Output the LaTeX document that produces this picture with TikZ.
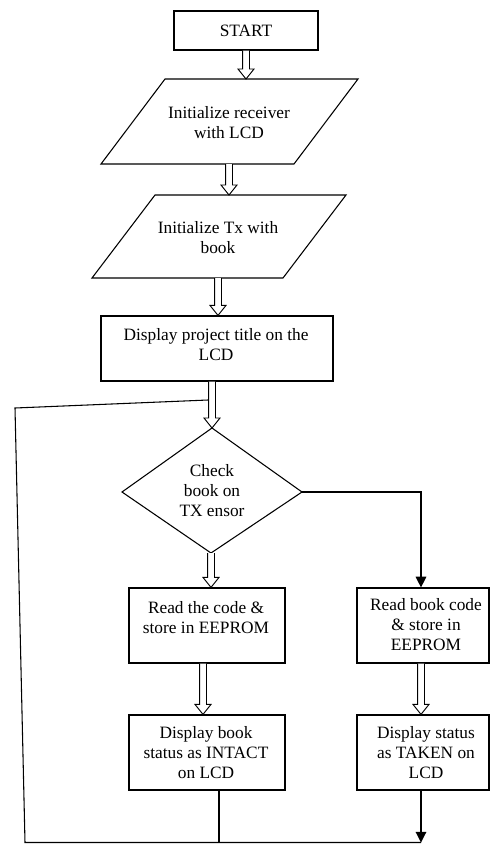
\documentclass[tikz,border=0pt]{standalone}
\usepackage{fontspec}
\setmainfont{Liberation Serif}
\usetikzlibrary{calc,arrows.meta,positioning}

% hollow block arrow pointing down, from #1 to #2
\newcommand{\hollowarrow}[2]{%
  \draw[hollow] let \p1=(#1), \p2=(#2) in
    (\x1-2.6pt,\y1) -- (\x1-2.6pt,\y2+7.5pt) -- (\x1-6pt,\y2+7.5pt) -- (\x1,\y2)
    -- (\x1+6pt,\y2+7.5pt) -- (\x1+2.6pt,\y2+7.5pt) -- (\x1+2.6pt,\y1);}

\begin{document}
\begin{tikzpicture}[x=0.75pt, y=-0.75pt, line width=0.8pt,
  box/.style={draw, line width=0.9pt, minimum width=#1, minimum height=56.25pt, inner sep=0pt},
  txt/.style={align=center, font=\fontsize{13}{15}\selectfont, inner sep=0pt},
  hollow/.style={draw, fill=white, line width=0.7pt},
  flow/.style={-{Triangle[length=8pt,width=8pt]}}]

% === Page ===
\useasboundingbox (0,0) rectangle (490,844);

% === Start and initialisation ===
\node[draw, line width=0.9pt, minimum width=108pt, minimum height=29.25pt, txt] (start) at (246,30.5) {START};

\draw (165,79) coordinate (p1nw) -- (358,79) -- (294,164) -- (101,164) coordinate (p1sw) -- cycle;
\node[txt] (init1) at (229,122.5) {Initialize receiver\\with LCD};

\draw (155,195) coordinate (p2nw) -- (346,195) -- (283,278) -- (92,278) coordinate (p2sw) -- cycle;
\node[txt] (init2) at (218,237.5) {Initialize Tx with\\book};

\node[draw, line width=0.9pt, minimum width=174pt, minimum height=48.75pt] (title) at (217,348.5) {};
\node[txt] (title-txt) at (216,344.5) {Display project title on the\\LCD};

% === Decision ===
\draw (212,428) coordinate (dtop) -- (302,492) coordinate (dright)
  -- (211,553) coordinate (dbot) -- (122,492) coordinate (dleft) -- cycle;
\node[txt] (check) at (212,491) {Check\\book on\\TX ensor};
\coordinate (turn) at (421,492);

% === Two branches ===
\node[box=117pt] (read1) at (207,625.5) {};
\node[txt] (read1-txt) at (206,617.5) {Read the code \&\\store in EEPROM};
\node[box=99pt] (read2) at (423,625.5) {};
\node[txt] (read2-txt) at (426,625) {Read book code\\\& store in\\EEPROM};

\node[box=117pt] (disp1) at (207,752.5) {};
\node[txt] (disp1-txt) at (206,753) {Display book\\status as INTACT\\on LCD};
\node[box=99pt] (disp2) at (423,752.5) {};
\node[txt] (disp2-txt) at (426,753) {Display status\\as TAKEN on\\LCD};

% === Block arrows ===
\coordinate (mid1) at ($(read1.south)+(-4,0)$);
\hollowarrow{start.south}{start.south |- p1nw}
\hollowarrow{init1 |- p1sw}{init1 |- p2nw}
\hollowarrow{init2 |- p2sw}{init2 |- title.north}
\hollowarrow{dtop |- title.south}{dtop}
\hollowarrow{dbot}{dbot |- read1.north}
\hollowarrow{mid1}{mid1 |- disp1.north}
\hollowarrow{turn |- read2.south}{turn |- disp2.north}

% === Line arrows and loop back ===
\coordinate (loopsw) at (25,842.5);
\coordinate (loopnw) at (15,408);
\coordinate (loopend) at (208,400);
\coordinate (out1) at ($(disp1.south)+(12,0)$);
\draw[flow] (dright) -- (turn) -- (turn |- read2.north);
\draw[flow] (turn |- disp2.south) -- (turn |- loopsw);
\draw (out1) -- (out1 |- loopsw);
\draw (turn |- loopsw) -- (loopsw) -- (loopnw) -- (loopend);
\end{tikzpicture}
\end{document}
